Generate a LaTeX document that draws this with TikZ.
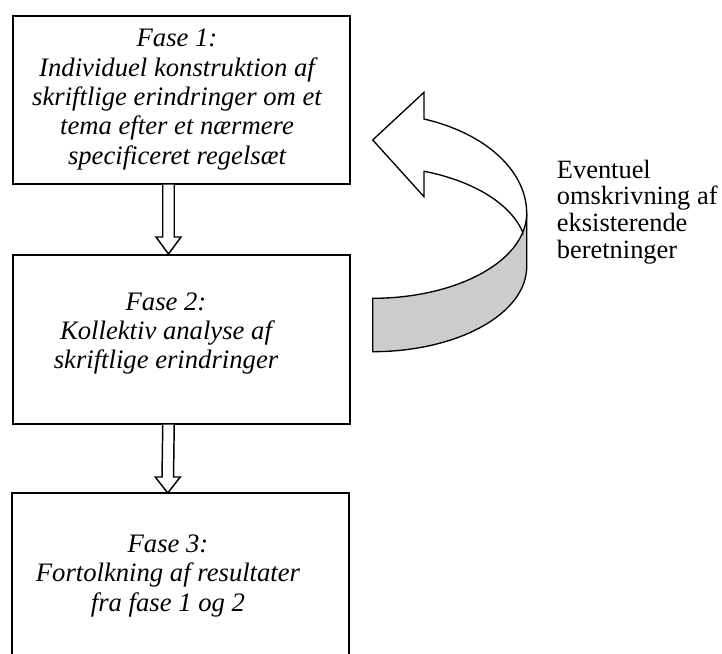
\documentclass[tikz,border=0pt]{standalone}
\usepackage{fontspec}
\setmainfont{Liberation Serif}
\usetikzlibrary{calc}
\begin{document}
\begin{tikzpicture}[x=0.75pt,y=-0.75pt,
  boxst/.style={draw=black, line width=1.5pt, inner sep=0pt, anchor=north west},
  phasetext/.style={align=center, inner sep=0pt, anchor=base, font=\fontsize{20}{22}\selectfont\itshape},
  blockarrow/.style={draw=black, fill=white, line width=1.1pt, line join=miter},
  ribbon/.style={draw=black, line width=1pt, line join=miter},
  band/.style={fill=black!20},
  lbltext/.style={align=left, inner sep=0pt, anchor=base west, font=\fontsize{19.8}{20}\selectfont}]
\useasboundingbox (0,0) rectangle (722,654);
% boxes
\node[boxst, minimum width=252.75pt, minimum height=126pt] (b1) at (12,15) {};
\node[boxst, minimum width=252.75pt, minimum height=126.75pt] (b2) at (12,254) {};
\node[inner sep=0pt, anchor=north west, minimum width=252pt, minimum height=125.25pt] (b3) at (12,493) {};
\draw[line width=1.5pt] (b3.south west) -- (b3.north west) -- (b3.north east) -- (b3.south east);
% texts (anchor base = baseline of the last line)
\begin{scope}
\clip (b1.north west) rectangle ($(b1.south east)+(0,-16)$);
\node[phasetext] (t1) at (177,164) {Fase 1:\\Individuel konstruktion af\\skriftlige erindringer om et\\tema efter et nærmere\\specificeret regelsæt};
\end{scope}
\node[phasetext] (t2) at (166,368.7) {Fase 2:\\Kollektiv analyse af\\skriftlige erindringer};
\node[phasetext] (t3) at (168,611) {Fase 3:\\Fortolkning af resultater\\fra fase 1 og 2};
\node[lbltext] (lbl) at (556.7,258) {Eventuel\\omskrivning af\\eksisterende\\beretninger};
% block arrows
\coordinate (a1s) at ($(b1.south)+(-13,0)$);
\coordinate (a1e) at ($(b2.north)+(-13,0)$);
\draw[blockarrow] ($(a1s)+(-5.75,-1)$) -- ($(a1e)+(-5.75,-17)$) -- ($(a1e)+(-12.5,-17)$) -- (a1e) -- ($(a1e)+(12.5,-17)$) -- ($(a1e)+(5.75,-17)$) -- ($(a1s)+(5.75,-1)$) -- cycle;
\coordinate (a2s) at ($(b2.south)+(-13,0)$);
\coordinate (a2e) at ($(b3.north)+(-12.5,0)$);
\draw[blockarrow] ($(a2s)+(-5.75,-1)$) -- ($(a2e)+(-5.75,-16)$) -- ($(a2e)+(-12.5,-16)$) -- (a2e) -- ($(a2e)+(12.5,-16)$) -- ($(a2e)+(5.75,-16)$) -- ($(a2s)+(5.75,-1)$) -- cycle;
% curved ribbon arrow
\fill[band] (372.7,298.3) -- plot[domain=-90:0,samples=40] ({372.7+154*cos(\x)},{213.3-85*sin(\x)}) -- (526.7,266.7) -- plot[domain=0:-90,samples=40] ({372.7+154*cos(\x)},{266.7-85*sin(\x)}) -- cycle;
\draw[ribbon] (424,171.3) -- (424,196.7) -- (372.7,140) -- (424,92.3) -- (424,119)
 -- plot[domain=70.5:0,samples=40] ({372.7+154*cos(\x)},{213.3-100*sin(\x)})
 -- (526.7,266.7)
 -- plot[domain=0:-90,samples=40] ({372.7+154*cos(\x)},{266.7-85*sin(\x)})
 -- (372.7,298.3)
 -- plot[domain=-90:-12.9,samples=40] ({372.7+154*cos(\x)},{213.3-85*sin(\x)})
 -- plot[domain=12.9:70.5,samples=40] ({372.7+154*cos(\x)},{251.4-85*sin(\x)})
 -- cycle;
\draw[ribbon] plot[domain=-12.9:0,samples=10] ({372.7+154*cos(\x)},{213.3-85*sin(\x)});
\end{tikzpicture}
\end{document}
